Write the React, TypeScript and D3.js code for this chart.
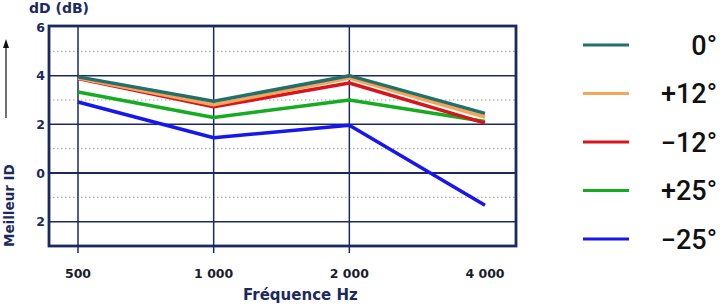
import React from 'react';
import * as d3 from 'd3';

// frequencies (Hz) and directivity gain per angle (dB)
const freqs = [500, 1000, 2000, 4000];
const freqLabels = ['500', '1 000', '2 000', '4 000'];
const angles = ['0°', '+12°', '−12°', '+25°', '−25°'];
const colors = ['#22706b', '#f6a458', '#d8141c', '#16ac22', '#1616ee'];
const gain0 = [3.95, 2.95, 4.0, 2.45];
const gainP12 = [3.9, 2.8, 3.9, 2.3];
const gainM12 = [3.88, 2.72, 3.7, 2.05];
const gainP25 = [3.33, 2.28, 3.0, 2.12];
const gainM25 = [2.92, 1.45, 1.96, -1.33];
const series = [gain0, gainP12, gainM12, gainP25, gainM25];
const yTicks = [6, 4, 2, 0, -2];
const yDotted = [5, 3, 1, -1];

const navy = '#1b2a5e';
const font = '"DejaVu Sans", Verdana, sans-serif';

const App = () => {
  const width = 722;
  const height = 308;
  const frame = { left: 49, right: 516, top: 26, bottom: 246 };

  const x = d3.scaleLog().domain([500, 4000]).range([78, 485]);
  const y = d3.scaleLinear().domain([-3, 6]).range([frame.bottom, frame.top + 1]);

  const line = d3
    .line<number>()
    .x((_, i) => x(freqs[i]))
    .y((d) => y(d));

  // legend rows
  const ly = d3.scalePoint().domain(angles).range([45, 239]);

  // draw order: blue at the back, teal on top
  const order = [4, 3, 2, 1, 0];

  return (
    <svg
      width={width}
      height={height}
      style={{ position: 'absolute', left: 0, top: 0, background: '#fff' }}
    >
      {/* dotted minor lines */}
      {yDotted.map((v) => (
        <line
          key={'d' + v}
          x1={frame.left}
          x2={frame.right}
          y1={y(v)}
          y2={y(v)}
          stroke="#9a9a9a"
          strokeWidth={1}
          strokeDasharray="1.5 2.5"
        />
      ))}
      {/* horizontal grid */}
      {yTicks
        .filter((v) => v !== 6)
        .map((v) => (
          <line
            key={'h' + v}
            x1={frame.left}
            x2={frame.right}
            y1={y(v)}
            y2={y(v)}
            stroke={navy}
            strokeWidth={v === 0 ? 2 : 1.5}
          />
        ))}
      {/* vertical grid, running past the frame as ticks */}
      {freqs.slice(0, 3).map((f) => (
        <line
          key={'v' + f}
          x1={x(f)}
          x2={x(f)}
          y1={frame.top}
          y2={frame.bottom + 7}
          stroke={navy}
          strokeWidth={1.5}
        />
      ))}
      <rect
        x={frame.left}
        y={frame.top}
        width={frame.right - frame.left}
        height={frame.bottom - frame.top}
        fill="none"
        stroke={navy}
        strokeWidth={2.8}
      />

      {order.map((i) => (
        <path
          key={angles[i]}
          d={line(series[i]) || ''}
          fill="none"
          stroke={colors[i]}
          strokeWidth={3.5}
          strokeLinejoin="round"
        />
      ))}

      {/* y tick labels (unsigned below zero) */}
      {yTicks.map((v) => (
        <text
          key={'yl' + v}
          x={45}
          y={y(v)}
          dy="0.36em"
          textAnchor="end"
          fontFamily={font}
          fontWeight="bold"
          fontSize={12.5}
          fill={navy}
        >
          {Math.abs(v)}
        </text>
      ))}
      {freqs.map((f, i) => (
        <text
          key={'xl' + f}
          x={x(f)}
          y={278}
          textAnchor="middle"
          fontFamily={font}
          fontWeight="bold"
          fontSize={12.5}
          fill="#1c1c2c"
        >
          {freqLabels[i]}
        </text>
      ))}

      <text x={29} y={13} fontFamily={font} fontWeight="bold" fontSize={14} fill={navy}>
        dD (dB)
      </text>
      <text
        x={243}
        y={300}
        fontFamily={font}
        fontWeight="bold"
        fontSize={15}
        fill={navy}
      >
        Fréquence Hz
      </text>
      <text
        transform="translate(14,247) rotate(-90)"
        fontFamily={font}
        fontWeight="bold"
        fontSize={13.5}
        fill={navy}
      >
        Meilleur ID
      </text>
      {/* arrow */}
      <line x1={6} x2={6} y1={118} y2={46} stroke="#111" strokeWidth={1.2} />
      <path d="M6,39 L3,48 L9,48 Z" fill="#111" />

      {/* legend */}
      {angles.map((a, i) => (
        <g key={'lg' + a}>
          <line
            x1={583}
            x2={629}
            y1={ly(a)}
            y2={ly(a)}
            stroke={colors[i]}
            strokeWidth={3}
          />
          <text
            x={717}
            y={ly(a)}
            dy="0.36em"
            textAnchor="end"
            fontFamily="Roboto, sans-serif"
            fontWeight={500}
            fontSize={27}
            fill="#111"
          >
            {a}
          </text>
        </g>
      ))}
    </svg>
  );
};

export default App;
